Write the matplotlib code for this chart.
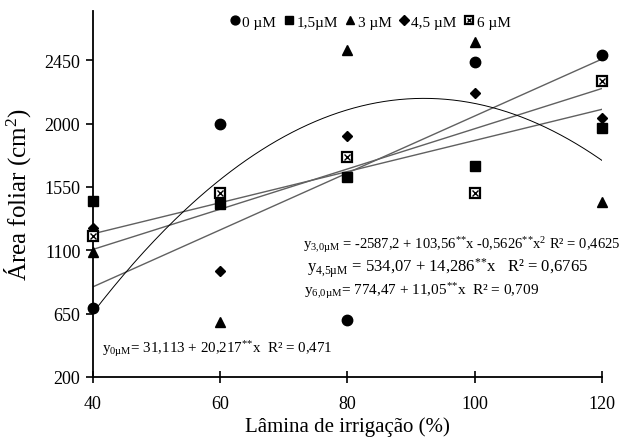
import numpy as np
import matplotlib
matplotlib.use('Agg')
import matplotlib.pyplot as plt
from matplotlib.legend_handler import HandlerTuple

plt.rcParams['font.family'] = ['Liberation Serif', 'DejaVu Serif']
plt.rcParams['mathtext.fontset'] = 'custom'
plt.rcParams['mathtext.rm'] = 'Liberation Serif'
plt.rcParams['mathtext.it'] = 'Liberation Serif:italic'

# dados
laminas = [40, 60, 80, 100, 120]
area_0 = [690, 2000, 605, 2440, 2490]
area_15 = [1450, 1430, 1620, 1700, 1970]
area_3 = [1090, 590, 2520, 2580, 1440]
area_45 = [1260, 950, 1910, 2220, 2040]
area_6 = [1200, 1510, 1760, 1505, 2300]

# coeficientes das regressões
coef_0 = [31.113, 20.217]
coef_3 = [-2587.2, 103.56, -0.5626]
coef_45 = [534.07, 14.286]
coef_6 = [774.47, 11.05]

y_ticks = [200, 650, 1100, 1550, 2000, 2450]
legend_labels = ['0 µM', '1,5µM', '3 µM', '4,5 µM', '6 µM']

fig = plt.figure(figsize=(6.23, 4.39), dpi=100)
ax = fig.add_axes([0.149, 0.139, 0.817, 0.834])

xs = np.linspace(40, 120, 200)
for c in (coef_0, coef_45, coef_6):
    ax.plot(xs, c[0] + c[1] * xs, color='#606060', lw=1.0, zorder=1)
ax.plot(xs, coef_3[0] + coef_3[1] * xs + coef_3[2] * xs ** 2, color='black', lw=0.7, zorder=1)

kw = dict(ls='none', color='black', clip_on=False, zorder=3)
h0, = ax.plot(laminas, area_0, marker='o', ms=7.5, **kw)
h1, = ax.plot(laminas, area_15, marker='s', ms=7, **kw)
h2, = ax.plot(laminas, area_3, marker='^', ms=7.5, **kw)
h3, = ax.plot(laminas, area_45, marker='D', ms=5.5, **kw)
h4a, = ax.plot(laminas, area_6, marker='s', ms=6.5, mfc='white', mec='black', mew=1.6,
               ls='none', clip_on=False, zorder=3)
h4b, = ax.plot(laminas, area_6, marker='x', ms=4, mec='black', mew=1.0,
               ls='none', clip_on=False, zorder=4)

ax.legend([h0, h1, h2, h3, (h4a, h4b)], legend_labels, ncol=5, frameon=False,
          loc='center', bbox_to_anchor=(0.546, 0.970), handlelength=0.55,
          handletextpad=0.2, columnspacing=0.55, fontsize=11, borderaxespad=0,
          markerscale=0.85,
          handler_map={tuple: HandlerTuple(ndivide=1, pad=0)})

ax.text(73.0, 1144, r'y$_{\mathrm{3{,}0µM}}$ = -2587,2 + 103,56$^{{*}{*}}$x -0,5626$^{{*}{*}}$x$^2$ R² = 0,4625',
        fontsize=10.5, va='center', ha='left')
ax.text(73.6, 981, r'y$_{\mathrm{4{,}5µM}}$ = 534,07 + 14,286$^{{*}{*}}$x   R² = 0,6765',
        fontsize=12, va='center', ha='left')
ax.text(73.2, 818, r'y$_{\mathrm{6{,}0µM}}$= 774,47 + 11,05$^{{*}{*}}$x  R² = 0,709',
        fontsize=11, va='center', ha='left')
ax.text(41.4, 406, r'y$_{\mathrm{0µM}}$= 31,113 + 20,217$^{{*}{*}}$x  R² = 0,471',
        fontsize=10.8, va='center', ha='left')

ax.set_xlim(40, 120)
ax.set_ylim(200, 2800)
ax.set_xticks(laminas)
ax.set_yticks(y_ticks)
ax.spines['top'].set_visible(False)
ax.spines['right'].set_visible(False)
ax.spines['left'].set_linewidth(1.3)
ax.spines['bottom'].set_linewidth(1.3)
ax.tick_params(axis='x', direction='inout', length=8, width=1.2, labelsize=13, pad=9)
ax.tick_params(axis='y', direction='out', length=5, width=1.2, labelsize=13, pad=4)

ax.set_xlabel('Lâmina de irrigação (%)', fontsize=15, labelpad=3)
ax.set_ylabel('Área foliar (cm$^2$)', fontsize=18, labelpad=8)

fig.savefig('out.png', dpi=100)
